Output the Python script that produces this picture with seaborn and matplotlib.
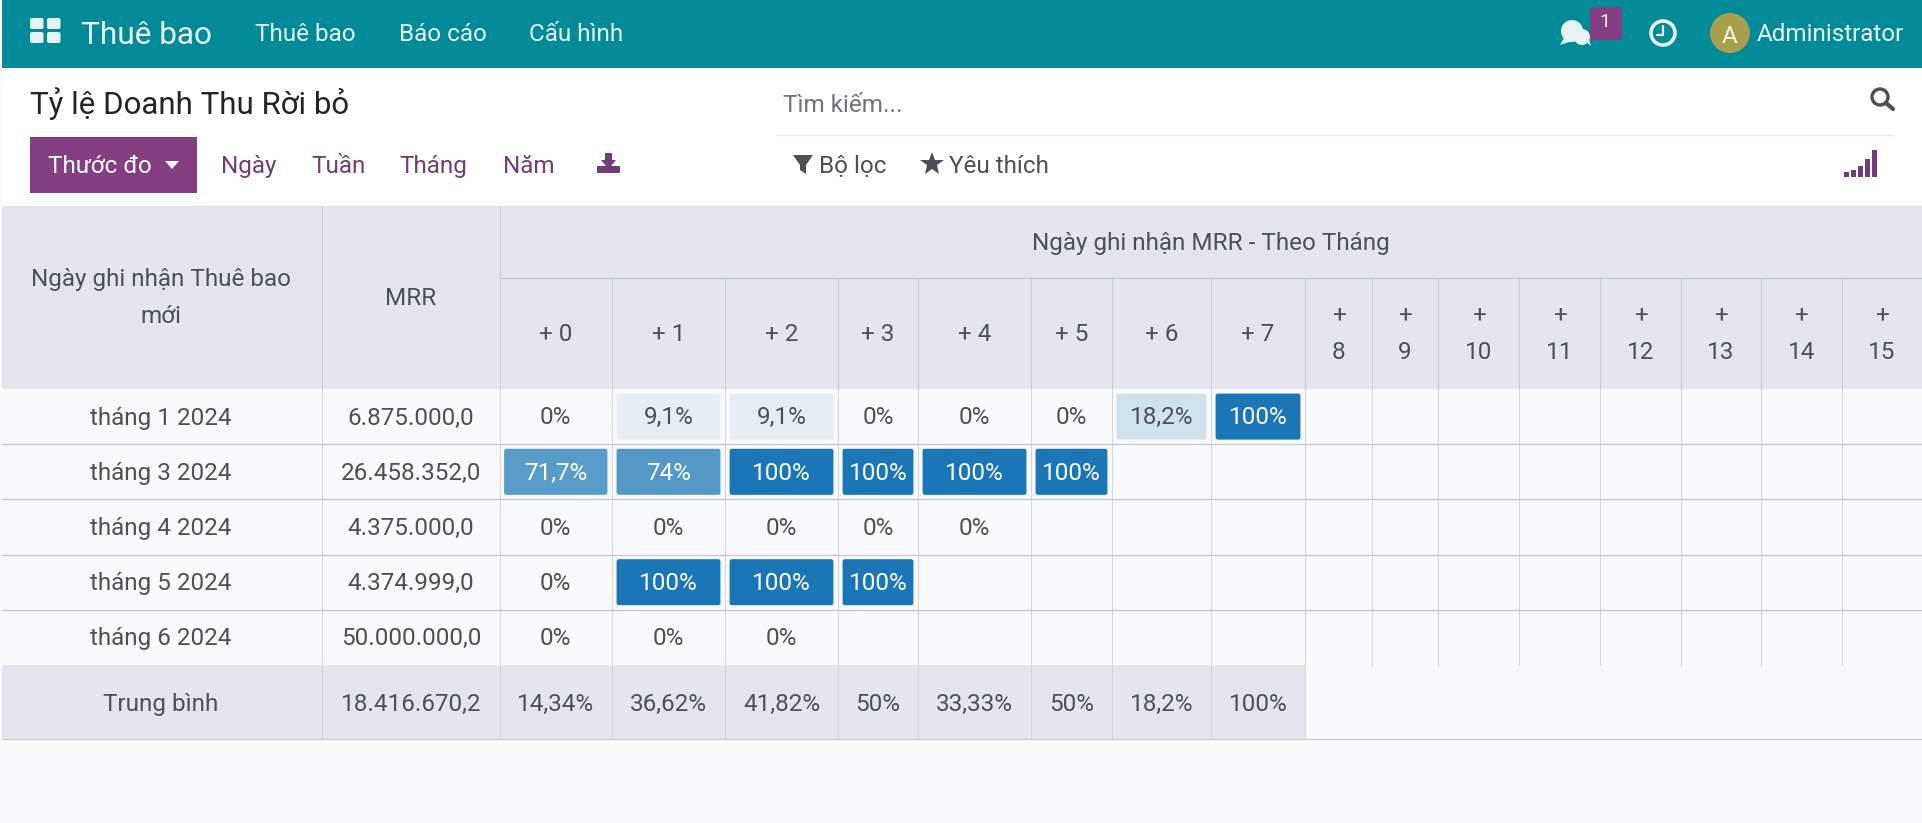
import numpy as np
import matplotlib
matplotlib.use('Agg')
import matplotlib.pyplot as plt
from matplotlib.colors import LinearSegmentedColormap
from matplotlib.patches import Rectangle, Circle, Polygon, FancyBboxPatch
import seaborn as sns

# data
months = ['tháng 1 2024', 'tháng 3 2024', 'tháng 4 2024', 'tháng 5 2024', 'tháng 6 2024']
mrr = [6875000.0, 26458352.0, 4375000.0, 4374999.0, 50000000.0]
mrr_avg = 18416670.2
offsets = list(range(16))
nan = np.nan
churn_m1 = [0, 9.1, 9.1, 0, 0, 0, 18.2, 100]
churn_m3 = [71.7, 74, 100, 100, 100, 100]
churn_m4 = [0, 0, 0, 0, 0]
churn_m5 = [0, 100, 100, 100]
churn_m6 = [0, 0, 0]
churn_avg = [14.34, 36.62, 41.82, 50, 33.33, 50, 18.2, 100]

# layout of the page, in pixels
W, H = 1922, 823
col_edges = [499.5, 612, 725, 838, 918, 1031, 1112, 1211, 1305, 1372, 1438, 1519, 1600, 1681, 1761, 1841.5, 1922]
row_top, row_bot = 389, 665

BG = '#f9fafb'
HEAD = '#e3e6ef'
TEAL = '#028a99'
PURPLE = '#843e82'
LINK = '#713c77'
TEXT = '#4c5158'
GRID = '#d3d6e0'
FS = 24.3

sns.set_theme(style='white')
plt.rcParams['font.family'] = ['Roboto', 'Noto Sans', 'DejaVu Sans']

fig = plt.figure(figsize=(W / 100, H / 100), dpi=100)


def page_axes(z):
    a = fig.add_axes([0, 0, 1, 1], zorder=z)
    a.set_xlim(0, W)
    a.set_ylim(H, 0)
    a.axis('off')
    return a


def txt(a, x, y, s, px=FS, color=TEXT, ha='center'):
    a.text(x, y, s, fontsize=px * 0.72, color=color, ha=ha, va='center_baseline')


def pct(v):
    return f'{v:g}%'.replace('.', ',')


def money(v):
    return f'{v:,.1f}'.replace(',', 'X').replace('.', ',').replace('X', '.')


back = page_axes(0)
top = page_axes(5)

# page background
back.add_patch(Rectangle((0, 0), W, H, color=BG, lw=0))
back.add_patch(Rectangle((2, 68), W, 138, color='white', lw=0))
back.add_patch(Rectangle((2, 0), W, 68, color=TEAL, lw=0))
back.add_patch(Rectangle((2, 206), W, 183, color=HEAD, lw=0))
back.add_patch(Rectangle((2, 665), col_edges[8] - 2, 74, color=HEAD, lw=0))

# top bar
for ix, iy in [(30, 18), (47, 18), (30, 32), (47, 32)]:
    back.add_patch(FancyBboxPatch((ix + 2, iy + 2), 9.5, 7, boxstyle='round,pad=2,rounding_size=2', color='#e6f3f4', lw=0))
txt(back, 81, 32, 'Thuê bao', 31.7, '#e6f3f4', 'left')
txt(back, 255, 32, 'Thuê bao', FS, '#e6f3f4', 'left')
txt(back, 399, 32, 'Báo cáo', FS, '#e6f3f4', 'left')
txt(back, 529, 32, 'Cấu hình', FS, '#e6f3f4', 'left')

back.add_patch(Circle((1572, 31), 11, color='#e6f3f4', lw=0))
back.add_patch(Circle((1582, 37), 8, color='#e6f3f4', lw=0))
back.add_patch(Polygon([(1564, 38), (1560, 45), (1572, 41)], color='#e6f3f4', lw=0))
back.add_patch(Polygon([(1584, 40), (1591, 46), (1588, 36)], color='#e6f3f4', lw=0))
back.add_patch(FancyBboxPatch((1593, 10), 26, 27, boxstyle='round,pad=3,rounding_size=3', color=PURPLE, lw=0))
txt(back, 1605, 20, '1', 19.5, '#e6f3f4')
back.add_patch(Circle((1663, 33), 12, fc='none', ec='#e6f3f4', lw=2.6))
back.plot([1663, 1663, 1657], [26, 35, 35], color='#e6f3f4', lw=1.6)
back.add_patch(Circle((1730, 33), 20, color='#a89f4a', lw=0))
txt(back, 1730, 34, 'A', FS, '#f4f4e8')
txt(back, 1757, 32, 'Administrator', FS, '#e6f3f4', 'left')

# control panel
txt(back, 30, 101, 'Tỷ lệ Doanh Thu Rời bỏ', 31.3, '#212529', 'left')
back.add_patch(Rectangle((30, 137), 167, 56, color=PURPLE, lw=0))
txt(back, 48, 164, 'Thước đo', FS, 'white', 'left')
back.add_patch(Polygon([(165, 161), (179, 161), (172, 169)], color='white', lw=0))
for lx, s in [(221, 'Ngày'), (311, 'Tuần'), (399, 'Tháng'), (503, 'Năm')]:
    txt(back, lx, 164, s, FS, LINK, 'left')
back.add_patch(FancyBboxPatch((598, 167), 21, 5, boxstyle='round,pad=1,rounding_size=1', color=LINK, lw=0))
back.add_patch(Polygon([(605, 153), (612, 153), (612, 160), (616, 160), (608.5, 169), (601, 160), (605, 160)], color=LINK, lw=0))

txt(back, 783, 103, 'Tìm kiếm...', FS, '#6c757d', 'left')
back.plot([776, 1894], [135, 135], color='#e9ecef', lw=1)
back.add_patch(Circle((1880, 97), 8, fc='none', ec='#495057', lw=2.4))
back.plot([1886, 1893], [103, 109], color='#495057', lw=3)
back.add_patch(Polygon([(793, 155), (813, 155), (806, 165), (806, 174), (800, 170), (800, 165)], color='#495057', lw=0))
txt(back, 819, 164, 'Bộ lọc', FS, TEXT, 'left')
back.plot([932], [164], marker='*', ms=18, color='#495057', mew=0)
txt(back, 949, 164, 'Yêu thích', FS, TEXT, 'left')
for k, bar_top in enumerate([172, 170, 166, 159, 150]):
    back.add_patch(Rectangle((1844 + k * 7.1, bar_top), 4.5, 177 - bar_top, color=LINK, lw=0))

# churn table, one heatmap per month offset because the columns differ in width
cmap = LinearSegmentedColormap.from_list('churn', [BG, '#1a76b6'])
rows = [churn_m1, churn_m3, churn_m4, churn_m5, churn_m6]
row_h = (row_bot - row_top) / len(months)
gap = 3.75
for c in offsets:
    column = np.array([[r[c] if c < len(r) else nan] for r in rows])
    labels = np.array([[pct(v) if not np.isnan(v) else ''] for v in column[:, 0]], dtype=object)
    left, right = col_edges[c], col_edges[c + 1]
    ax = fig.add_axes([left / W, 1 - row_bot / H, (right - left) / W, (row_bot - row_top) / H], zorder=1)
    ax.set_facecolor(BG)
    sns.heatmap(column, ax=ax, cmap=cmap, vmin=0, vmax=100, cbar=False, annot=labels, fmt='',
                linewidths=5.4, linecolor=BG, xticklabels=False, yticklabels=False,
                annot_kws={'fontsize': FS * 0.72})
    for t in ax.texts:
        t.set_va('center_baseline')
        t.set_y(t.get_position()[1] - 1.2 / row_h)
        if t.get_color() != 'w':
            t.set_color(TEXT)
    # round the chip corners
    for i, v in enumerate(column[:, 0]):
        if v > 0:
            y0 = row_top + row_h * i + gap
            r = 3
            top.add_patch(FancyBboxPatch((left + gap + r, y0 + r), right - left - 2 * gap - 2 * r, row_h - 2 * gap - 2 * r,
                                         boxstyle=f'round,pad={r},rounding_size={r}', fc='none', ec=BG, lw=1.2))

# grid lines over the cells
for x in [322, 499.5] + col_edges[1:-1]:
    top.plot([x, x], [row_top, 739 if x <= col_edges[8] else row_bot], color=GRID, lw=0.8)
for x in col_edges[1:-1]:
    top.plot([x, x], [278, row_top], color='#c9cdd9', lw=0.8)
for x in [322, 499.5]:
    top.plot([x, x], [206, row_top], color='#c9cdd9', lw=0.8)
top.plot([499.5, W], [278, 278], color='#c3c7d4', lw=0.9)
for y in np.linspace(row_top, row_bot, len(months) + 1)[1:-1]:
    top.plot([2, W], [y, y], color='#c3c7d4', lw=0.9)
top.plot([2, W], [739, 739], color='#c9cdd9', lw=0.9)

# table headers
txt(top, 161, 277, 'Ngày ghi nhận Thuê bao')
txt(top, 161, 314, 'mới')
txt(top, 411, 296, 'MRR')
txt(top, 1211, 241, 'Ngày ghi nhận MRR - Theo Tháng')
for c in offsets:
    mid = (col_edges[c] + col_edges[c + 1]) / 2
    if c < 8:
        txt(top, mid, 332, f'+ {c}')
    else:
        txt(top, mid, 312, '+')
        txt(top, mid, 350, str(c))

# row labels and totals
for i, (m, v) in enumerate(zip(months, mrr)):
    y = row_top + row_h * (i + 0.5) - 1
    txt(top, 161, y, m)
    txt(top, 411, y, money(v))
txt(top, 161, 702, 'Trung bình')
txt(top, 411, 702, money(mrr_avg))
for c, v in enumerate(churn_avg):
    txt(top, (col_edges[c] + col_edges[c + 1]) / 2, 702, pct(v))

fig.savefig('out.png', dpi=100)
